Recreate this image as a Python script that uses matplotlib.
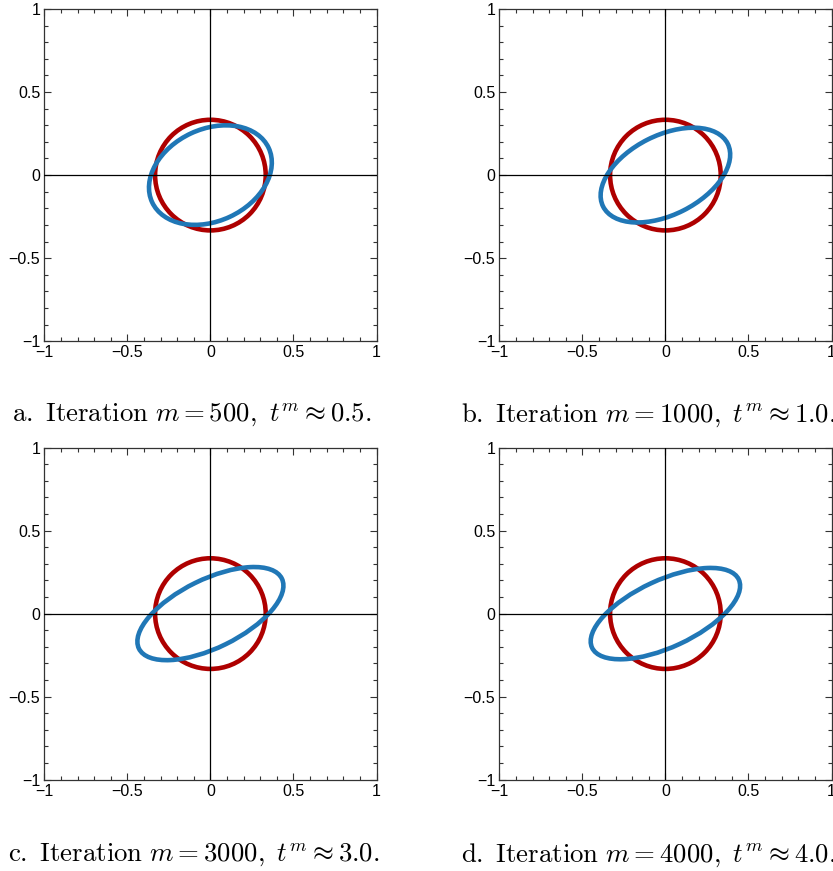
import numpy as np
import matplotlib
matplotlib.use("Agg")
import matplotlib.pyplot as plt
from matplotlib.patches import Circle, Ellipse
from matplotlib.ticker import MultipleLocator, FixedLocator

# data
panel_tags = ["a", "b", "c", "d"]
iterations = [500, 1000, 3000, 4000]
times = ["0.5", "1.0", "3.0", "4.0"]
circle_radius = 0.333
ellipse_semi_major = [0.387, 0.420, 0.479, 0.487]
ellipse_semi_minor = [0.277, 0.239, 0.206, 0.202]
ellipse_angle_deg = [25.0, 26.8, 26.1, 24.9]
tick_vals = [-1, -0.5, 0, 0.5, 1]
tick_labels = ["\u22121", "\u22120.5", "0", "0.5", "1"]

RED = "#AE0000"
BLUE = "#2077B6"

plt.rcParams["font.family"] = ["Liberation Sans", "DejaVu Sans"]
plt.rcParams["mathtext.fontset"] = "cm"

W, H = 833, 871
fig = plt.figure(figsize=(W / 100, H / 100), dpi=100)

# axes boxes in pixels: left, top
boxes = [(44.3, 9.0), (499.3, 9.0), (44.3, 447.5), (499.3, 447.5)]
size = 332.2
caption_pos = [(12, 422), (461, 422), (8, 862), (461, 862)]

for i in range(4):
    lx, ty = boxes[i]
    ax = fig.add_axes([lx / W, 1 - (ty + size) / H, size / W, size / H])
    ax.set_xlim(-1, 1)
    ax.set_ylim(-1, 1)

    ax.add_patch(Circle((0, 0), circle_radius, fill=False, ec=RED, lw=3.3, zorder=2))
    ax.add_patch(Ellipse((0, 0), 2 * ellipse_semi_major[i], 2 * ellipse_semi_minor[i],
                         angle=ellipse_angle_deg[i], fill=False, ec=BLUE, lw=3.3, zorder=3))
    ax.axhline(0, color="k", lw=0.9, zorder=4)
    ax.axvline(0, color="k", lw=0.9, zorder=4)

    ax.xaxis.set_major_locator(FixedLocator(tick_vals))
    ax.yaxis.set_major_locator(FixedLocator(tick_vals))
    ax.set_xticklabels(tick_labels)
    ax.set_yticklabels(tick_labels)
    ax.xaxis.set_minor_locator(MultipleLocator(0.1))
    ax.yaxis.set_minor_locator(MultipleLocator(0.1))
    ax.tick_params(which="both", direction="in", top=True, right=True,
                   color="#333333", width=0.8, labelsize=11.5)
    ax.tick_params(which="major", length=5, pad=3)
    ax.tick_params(which="minor", length=3)
    for s in ax.spines.values():
        s.set_color("#333333")
        s.set_linewidth(0.9)

    cx, cy = caption_pos[i]
    cap = (r"$\mathrm{%s.\ Iteration\ }m = %d,\ t^m \approx %s.$"
           % (panel_tags[i], iterations[i], times[i]))
    fig.text(cx / W, 1 - cy / H, cap, fontsize=19.3, ha="left", va="baseline")

fig.savefig("out.png", dpi=100)
